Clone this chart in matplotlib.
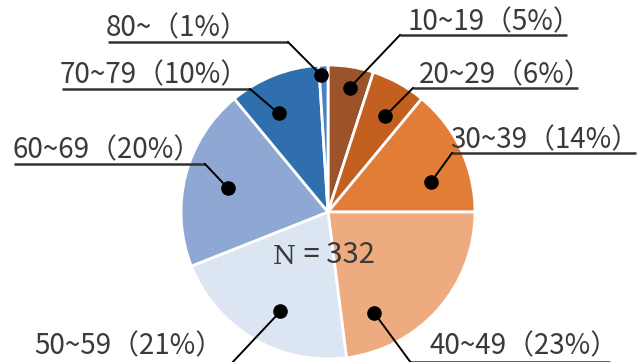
import numpy as np
import matplotlib
matplotlib.use("Agg")
import matplotlib.pyplot as plt

# age groups of respondents, N = 332
age_groups = ["10~19", "20~29", "30~39", "40~49", "50~59", "60~69", "70~79", "80~"]
shares = [5, 6, 14, 23, 21, 20, 10, 1]
n_total = 332

colors = ["#9d5329", "#c3601f", "#e27d38", "#eeab80",
          "#dce6f2", "#8fa7d3", "#2f6fae", "#4a83c4"]

W, H = 642, 362
CX, CY, R = 328, H - 212, 147

# label layout in pixels from top-left: text x, text y, underline x0, x1, y, leader side
label_layout = [
    (408, 22, 400, 567, 35, "left"),
    (419, 75, 413, 578, 88, "left"),
    (450, 140, 452, 636, 153, "left"),
    (430, 346, 410, 610, 361.5, "left"),
    (34, 346, 36, 230, 365, "right"),
    (12, 150, 14, 205, 164, "right"),
    (60, 75, 62, 250, 89, "right"),
    (106, 28, 108, 288, 42, "right"),
]
# dot placement inside each wedge: radius fraction, angle nudge (deg)
dot_r = [0.86, 0.76, 0.73, 0.755, 0.75, 0.70, 0.75, 0.93]
dot_nudge = [1, 2, 9, 24, -5, -1, -5, -1]

FONT = ["Noto Sans CJK JP", "DejaVu Sans"]
TEXT_C = "#3a3a3a"

fig = plt.figure(figsize=(W / 100, H / 100), dpi=100)
ax = fig.add_axes([0, 0, 1, 1])

wedges, _ = ax.pie(shares, colors=colors, startangle=90, counterclock=False,
                   center=(CX, CY), radius=R,
                   wedgeprops=dict(edgecolor="white", linewidth=2))
ax.set_xlim(0, W)
ax.set_ylim(0, H)
ax.set_aspect("equal")
ax.axis("off")

cum = np.cumsum([0] + shares[:-1])
for i, (grp, pct) in enumerate(zip(age_groups, shares)):
    mid = (cum[i] + pct / 2) / sum(shares) * 360 + dot_nudge[i]
    th = np.radians(mid)
    dx = CX + dot_r[i] * R * np.sin(th)
    dy = CY + dot_r[i] * R * np.cos(th)

    tx, ty, ux0, ux1, uy, side = label_layout[i]
    jx = ux0 if side == "left" else ux1
    ax.plot([ux0, ux1], [H - uy, H - uy], color="#333333", lw=1.8,
            solid_capstyle="butt", clip_on=False)
    ax.plot([jx, dx], [H - uy, dy], color="black", lw=1.4, clip_on=False)
    ax.plot(dx, dy, "o", color="black", ms=9.5, zorder=5)
    ax.text(tx, H - ty, f"{grp}（{pct}%）", family=FONT, fontsize=20,
            color=TEXT_C, ha="left", va="center")

ax.text(296, H - 256, "N", family=["DejaVu Serif"], fontsize=19,
        color=TEXT_C, ha="right", va="center")
ax.text(297, H - 255, f" = {n_total}", family=FONT, fontsize=21,
        color=TEXT_C, ha="left", va="center")

fig.savefig("out.png", dpi=100)
